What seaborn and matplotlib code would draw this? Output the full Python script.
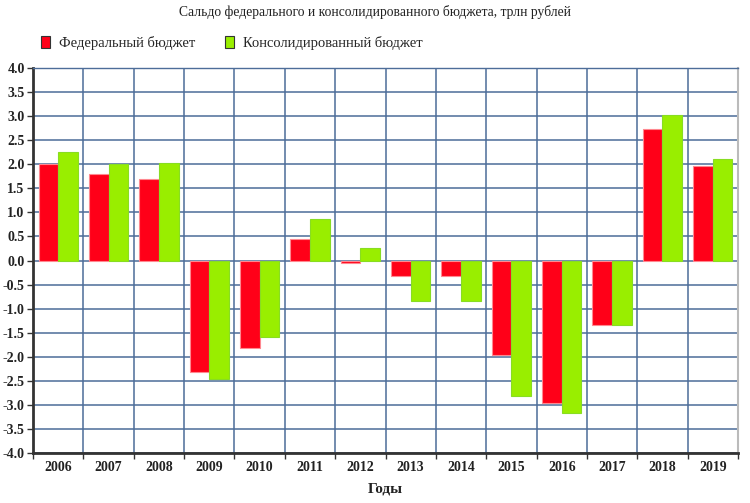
import matplotlib
matplotlib.use("Agg")
import matplotlib.pyplot as plt
import seaborn as sns
import pandas as pd
import numpy as np
from matplotlib.patches import Patch

years = ["2006", "2007", "2008", "2009", "2010", "2011", "2012",
         "2013", "2014", "2015", "2016", "2017", "2018", "2019"]
federal = [2.0, 1.8, 1.7, -2.32, -1.81, 0.44, -0.05,
           -0.32, -0.33, -1.96, -2.96, -1.33, 2.74, 1.97]
consolidated = [2.26, 2.0, 2.02, -2.46, -1.58, 0.86, 0.26,
                -0.84, -0.84, -2.82, -3.16, -1.34, 3.02, 2.11]
series_names = ["Федеральный бюджет", "Консолидированный бюджет"]
yticks = [-4.0, -3.5, -3.0, -2.5, -2.0, -1.5, -1.0, -0.5, 0.0,
          0.5, 1.0, 1.5, 2.0, 2.5, 3.0, 3.5, 4.0]

df = pd.DataFrame({
    "year": years * 2,
    "value": federal + consolidated,
    "series": [series_names[0]] * len(years) + [series_names[1]] * len(years),
})

sns.set_theme(style="white")
plt.rcParams["font.family"] = ["Liberation Serif", "DejaVu Serif"]

red = "#ff0018"
green = "#99ee00"
grid_c = "#4d6d99"

fig = plt.figure(figsize=(7.5, 5.03), dpi=100)
ax = fig.add_axes([0.044, 0.0994, 0.940, 0.7654])

sns.barplot(data=df, x="year", y="value", hue="series", palette=[red, green],
            width=0.78, ax=ax, legend=False, saturation=1, zorder=3)
for i, p in enumerate(ax.patches):
    if p.get_facecolor()[1] > 0.5:
        p.set_edgecolor("#88dd22")
    else:
        p.set_edgecolor("#ff8890")
    p.set_linewidth(0.8)

ax.set_ylim(-4.0, 4.0)
ax.set_xlim(-0.5, len(years) - 0.5)
ax.set_yticks(yticks)
ax.set_yticklabels([f"{v:.1f}" for v in yticks], fontsize=10, fontweight="bold", color="#222222")
ax.set_xticks(range(len(years)))
ax.set_xticklabels(years, fontsize=10, fontweight="bold", color="#222222")
ax.set_xticks(np.arange(-0.5, len(years)), minor=True)

ax.yaxis.grid(True, color=grid_c, linewidth=1.3, alpha=0.85, zorder=0)
ax.xaxis.grid(True, which="minor", color=grid_c, linewidth=1.3, alpha=0.85, zorder=0)
ax.xaxis.grid(False, which="major")
ax.set_axisbelow(True)

ax.tick_params(axis="x", which="major", length=0, pad=6)
ax.tick_params(axis="x", which="minor", length=4, color="#333333", width=1, direction="out", bottom=True)
ax.tick_params(axis="y", length=4, color="#333333", width=1, direction="out", left=True, pad=2)

for s in ["left", "bottom"]:
    ax.spines[s].set_color("#333333")
    ax.spines[s].set_linewidth(2)
ax.spines["right"].set_color("#bbbbbb")
ax.spines["right"].set_linewidth(1.5)
ax.spines["top"].set_color(grid_c)
ax.spines["top"].set_linewidth(1.0)

ax.set_xlabel("Годы", fontsize=11, fontweight="bold", color="#222222", labelpad=6)
ax.set_ylabel("")

fig.text(0.5, 0.99, "Сальдо федерального и консолидированного бюджета, трлн рублей",
         ha="center", va="top", fontsize=9.8, color="#222222")

handles = [Patch(facecolor=red, edgecolor="#333333", linewidth=0.8),
           Patch(facecolor=green, edgecolor="#333333", linewidth=0.8)]
fig.legend(handles, series_names, loc="center left", bbox_to_anchor=(0.037, 0.915),
           ncol=2, frameon=False, fontsize=10.5, handlelength=0.65, handleheight=0.9,
           handletextpad=0.6, columnspacing=2.0)

fig.savefig("out.png", dpi=100)
